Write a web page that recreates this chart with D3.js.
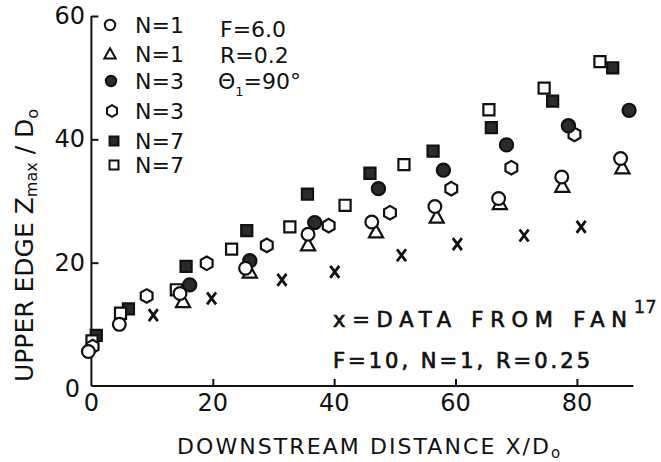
<!DOCTYPE html>
<html>
<head>
<meta charset="utf-8">
<script src="https://cdn.jsdelivr.net/npm/d3@7"></script>
<style>
  body { margin: 0; background: #fff; }
  svg { display: block; }
</style>
</head>
<body>
<div id="chart"></div>
<script>
// data: [X/Do, Zmax/Do]
var circleN1 = [[-0.5,5.6],[4.6,10.0],[14.6,15.0],[25.4,19.1],[35.7,24.6],[46.2,26.6],[56.6,29.1],[67.1,30.4],[77.5,33.9],[87.2,36.9]];
var triangleN1 = [[15.1,13.7],[26.1,18.5],[35.7,22.9],[46.9,25.0],[56.9,27.4],[67.3,29.6],[77.6,32.4],[87.5,35.4]];
var dotN3 = [[16.2,16.4],[26.1,20.3],[36.8,26.5],[47.3,32.0],[58.0,35.0],[68.4,39.1],[78.6,42.2],[88.6,44.7]];
var hexN3 = [[0.2,6.4],[9.1,14.6],[19.0,19.9],[28.9,22.8],[39.1,26.0],[49.2,28.1],[59.3,32.0],[69.2,35.4],[79.6,40.8]];
var blockN7 = [[0.8,8.2],[6.1,12.5],[15.6,19.4],[25.6,25.2],[35.6,31.1],[45.9,34.5],[56.3,38.1],[65.9,41.9],[76.0,46.2],[85.9,51.6]];
var squareN7 = [[0.1,7.3],[4.8,11.8],[14.0,15.6],[23.1,22.2],[32.7,25.8],[41.8,29.3],[51.5,35.9],[65.5,44.8],[74.6,48.3],[83.8,52.6]];
var fanData = [[10.2,11.5],[19.8,14.2],[31.4,17.2],[40.1,18.5],[51.1,21.2],[60.3,23.0],[71.3,24.4],[80.7,25.8]];

var xTicks = [0, 20, 40, 60, 80];
var yTicks = [0, 20, 40, 60];
var legendLabels = ["N=1", "N=1", "N=3", "N=3", "N=7", "N=7"];

var width = 661, height = 462;
var ink = "#111";
var font = "DejaVu Sans, sans-serif";

var svg = d3.select("#chart").append("svg")
  .attr("width", width)
  .attr("height", height);

var x = d3.scaleLinear().domain([0, 80]).range([91.4, 576.9]);
var y = d3.scaleLinear().domain([0, 60]).range([386, 16]);

// 軸の線
svg.append("line")
  .attr("x1", x(0)).attr("x2", x(0))
  .attr("y1", y(60)).attr("y2", y(0))
  .attr("stroke", ink).attr("stroke-width", 2);
svg.append("line")
  .attr("x1", x(0)).attr("x2", x(89.3))
  .attr("y1", y(0)).attr("y2", y(0))
  .attr("stroke", ink).attr("stroke-width", 2);

// 目盛り (内向き)
var yAxis = d3.axisRight(y).tickValues(yTicks.filter(function(d){ return d > 0; }))
  .tickSize(7).tickFormat("");
svg.append("g").attr("transform", "translate(" + x(0) + ",0)").call(yAxis)
  .call(function(g){ g.select(".domain").remove(); })
  .selectAll("line").attr("stroke", ink).attr("stroke-width", 2);

var xAxis = d3.axisTop(x).tickValues(xTicks.filter(function(d){ return d > 0; }))
  .tickSize(7).tickFormat("");
svg.append("g").attr("transform", "translate(0," + y(0) + ")").call(xAxis)
  .call(function(g){ g.select(".domain").remove(); })
  .selectAll("line").attr("stroke", ink).attr("stroke-width", 2);

// 目盛りラベル
svg.selectAll(".ylab").data(yTicks).enter().append("text")
  .attr("class", "ylab")
  .attr("x", function(d){ return d === 0 ? 80 : 85; })
  .attr("y", function(d){ return y(d) + (d === 0 ? 11 : 8); })
  .attr("text-anchor", "end")
  .attr("font-family", font).attr("font-size", "24px").attr("fill", ink)
  .text(function(d){ return d; });

svg.selectAll(".xlab").data(xTicks).enter().append("text")
  .attr("class", "xlab")
  .attr("x", function(d){ return x(d); })
  .attr("y", 411)
  .attr("text-anchor", "middle")
  .attr("font-family", font).attr("font-size", "24px").attr("fill", ink)
  .text(function(d){ return d; });

// 軸タイトル
var xt = svg.append("text")
  .attr("x", 177).attr("y", 454)
  .attr("font-family", font).attr("font-size", "22px").attr("fill", ink);
xt.append("tspan").attr("textLength", 372).attr("lengthAdjust", "spacing").text("DOWNSTREAM DISTANCE X/D");
xt.append("tspan").attr("font-size", "15px").attr("dy", 4).text("o");

var yt = svg.append("text")
  .attr("transform", "translate(33,382) rotate(-90)")
  .attr("font-family", font).attr("font-size", "25px").attr("fill", ink);
yt.append("tspan").text("UPPER EDGE  Z");
yt.append("tspan").attr("font-size", "16px").attr("dy", 4).text("max");
yt.append("tspan").attr("dy", -4).text(" / D");
yt.append("tspan").attr("font-size", "16px").attr("dy", 5).text("o");

// マーカーの形
function shapePath(kind, r) {
  if (kind === "circle") return d3.symbol(d3.symbolCircle, Math.PI * r * r)();
  if (kind === "square") return d3.symbol(d3.symbolSquare, 4 * r * r * 0.8)();
  if (kind === "triangle") {
    return "M0," + (-r) + "L" + (r * 0.98) + "," + (r * 0.78) + "L" + (-r * 0.98) + "," + (r * 0.78) + "Z";
  }
  if (kind === "hexagon") {
    var pts = d3.range(6).map(function(i){
      var a = Math.PI / 3 * i;
      return [r * Math.sin(a), -r * Math.cos(a)];
    });
    return "M" + pts.join("L") + "Z";
  }
  if (kind === "cross") {
    return "M" + (-r * 0.75) + "," + (-r) + "L" + (r * 0.75) + "," + r +
           "M" + (r * 0.75) + "," + (-r) + "L" + (-r * 0.75) + "," + r;
  }
}

var series = [
  { data: blockN7,   kind: "square",   filled: true,  r: 6.2 },
  { data: squareN7,  kind: "square",   filled: false, r: 6.2 },
  { data: hexN3,     kind: "hexagon",  filled: false, r: 6.8 },
  { data: dotN3,     kind: "circle",   filled: true,  r: 6.6 },
  { data: triangleN1,kind: "triangle", filled: false, r: 7.2 },
  { data: circleN1,  kind: "circle",   filled: false, r: 6.4 },
  { data: fanData,   kind: "cross",    filled: false, r: 6.0 }
];

series.forEach(function(s) {
  svg.append("g").selectAll("path").data(s.data).enter().append("path")
    .attr("transform", function(d){ return "translate(" + x(d[0]) + "," + y(d[1]) + ")"; })
    .attr("d", shapePath(s.kind, s.r))
    .attr("fill", s.kind === "cross" ? "none" : (s.filled ? "#2b2b2b" : "#fff"))
    .attr("stroke", ink)
    .attr("stroke-width", s.kind === "cross" ? 2.8 : 2.2);
});

// 凡例
var legendRows = [
  { kind: "circle",   filled: false, r: 5.2, cx: 110, cy: 25 },
  { kind: "triangle", filled: false, r: 5.8, cx: 110, cy: 54 },
  { kind: "circle",   filled: true,  r: 5.2, cx: 111, cy: 81 },
  { kind: "hexagon",  filled: false, r: 5.8, cx: 112, cy: 111 },
  { kind: "square",   filled: true,  r: 5.0, cx: 114, cy: 141 },
  { kind: "square",   filled: false, r: 5.0, cx: 114, cy: 165 }
];
var lg = svg.append("g");
lg.selectAll("path").data(legendRows).enter().append("path")
  .attr("transform", function(d){ return "translate(" + d.cx + "," + d.cy + ")"; })
  .attr("d", function(d){ return shapePath(d.kind, d.r); })
  .attr("fill", function(d){ return d.filled ? "#2b2b2b" : "#fff"; })
  .attr("stroke", ink).attr("stroke-width", 2);
lg.selectAll("text").data(legendRows).enter().append("text")
  .attr("x", 135)
  .attr("y", function(d){ return d.cy + 8; })
  .attr("font-family", font).attr("font-size", "22px").attr("fill", ink)
  .text(function(d, i){ return legendLabels[i]; });

var params = ["F=6.0", "R=0.2"];
svg.selectAll(".par").data(params).enter().append("text")
  .attr("class", "par")
  .attr("x", 220).attr("y", function(d, i){ return 37 + i * 26; })
  .attr("font-family", font).attr("font-size", "22px").attr("fill", ink)
  .text(function(d){ return d; });
var th = svg.append("text").attr("x", 218).attr("y", 89)
  .attr("font-family", font).attr("font-size", "22px").attr("fill", ink);
th.append("tspan").text("Θ");
th.append("tspan").attr("font-size", "13px").attr("dy", 7).text("1");
th.append("tspan").attr("dy", -7).text("=90°");

// 注記
var an = svg.append("text").attr("x", 333).attr("y", 327)
  .attr("font-family", font).attr("font-size", "21px").attr("fill", ink)
  .attr("stroke", ink).attr("stroke-width", 0.7);
an.append("tspan").attr("textLength", 294).attr("lengthAdjust", "spacing").text("x=DATA   FROM   FAN");
an.append("tspan").attr("font-size", "18px").attr("stroke-width", 0.3).attr("dy", -14).text("17");

svg.append("text").attr("x", 333).attr("y", 368)
  .attr("font-family", font).attr("font-size", "21px").attr("fill", ink)
  .attr("stroke", ink).attr("stroke-width", 0.7)
  .attr("textLength", 257).attr("lengthAdjust", "spacing")
  .text("F=10, N=1, R=0.25");
</script>
</body>
</html>
